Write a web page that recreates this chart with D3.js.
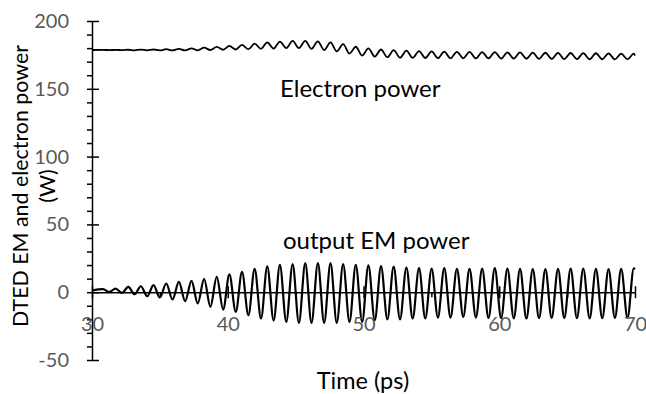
<!DOCTYPE html>
<html>
<head>
<meta charset="utf-8">
<script src="https://cdn.jsdelivr.net/npm/d3@7"></script>
<style>
  html, body { margin: 0; padding: 0; background: #fff; }
  svg { display: block; }
</style>
</head>
<body>
<svg id="chart" width="646" height="394"></svg>
<script>
// Time of each sample (ps): start, alternating crests/troughs of the ripple, end
const timePs = [
  30.00, 30.81, 31.28, 31.74, 32.21, 32.67, 33.14, 33.60, 34.07, 34.53,
  35.00, 35.47, 35.93, 36.40, 36.86, 37.33, 37.79, 38.26, 38.72, 39.19,
  39.66, 40.12, 40.59, 41.05, 41.52, 41.98, 42.45, 42.91, 43.38, 43.84,
  44.31, 44.78, 45.24, 45.71, 46.17, 46.64, 47.10, 47.57, 48.03, 48.50,
  48.97, 49.43, 49.90, 50.36, 50.83, 51.29, 51.76, 52.22, 52.69, 53.16,
  53.62, 54.09, 54.55, 55.02, 55.48, 55.95, 56.41, 56.88, 57.35, 57.81,
  58.28, 58.74, 59.21, 59.67, 60.14, 60.60, 61.07, 61.53, 62.00, 62.47,
  62.93, 63.40, 63.86, 64.33, 64.79, 65.26, 65.72, 66.19, 66.66, 67.12,
  67.59, 68.05, 68.52, 68.98, 69.45, 69.91, 70.00
];

// Output EM power (W)
const emPower = [
   1.2,   2.2,   0.2,   2.7,  -0.5,   3.9,  -1.5,   4.4,  -3.0,   5.2,
  -3.9,   6.4,  -5.4,   7.6,  -6.6,   8.3,  -8.3,   9.8, -10.8,  11.3,
 -12.8,  13.1, -14.5,  15.0, -17.0,  17.2, -19.4,  19.0, -21.0,  20.1,
 -21.9,  20.7, -22.6,  21.4, -22.6,  21.4, -22.6,  21.4, -22.6,  20.7,
 -21.9,  20.2, -21.9,  19.8, -20.7,  19.3, -20.1,  18.8, -20.1,  18.2,
 -19.4,  17.7, -19.4,  17.4, -18.7,  17.7, -18.7,  17.2, -18.2,  17.2,
 -18.7,  17.4, -19.0,  17.7, -19.2,  17.4, -19.4,  17.2, -19.4,  17.0,
 -19.2,  17.0, -19.0,  17.2, -19.0,  17.4, -19.2,  17.4, -19.4,  17.2,
 -19.2,  17.0, -19.0,  17.2, -19.0,  17.5,  17.0
];

// Electron beam power (W)
const electronPower = [
  178.6, 178.7, 178.5, 178.7, 178.5, 178.8, 178.4, 178.9, 178.4, 179.0,
  178.3, 179.2, 178.3, 179.5, 178.3, 179.8, 178.4, 180.3, 178.6, 180.9,
  178.8, 181.6, 179.0, 182.4, 179.2, 183.3, 179.5, 184.2, 179.7, 184.8,
  180.0, 185.3, 180.0, 185.4, 179.5, 185.0, 178.6, 184.2, 177.6, 183.0,
  176.0, 181.0, 174.5, 179.8, 173.8, 179.0, 173.3, 178.5, 173.0, 178.1,
  172.8, 177.8, 172.7, 177.6, 172.6, 177.4, 172.5, 177.3, 172.5, 177.2,
  172.4, 177.1, 172.4, 177.0, 172.3, 176.9, 172.3, 176.8, 172.2, 176.7,
  172.1, 176.6, 172.0, 176.5, 171.9, 176.4, 171.9, 176.3, 171.8, 176.2,
  171.8, 176.1, 171.7, 176.0, 171.7, 175.9, 174.5
];

const xMajorTicks = [30, 40, 50, 60, 70];
const xMinorTicks = [35, 45, 55, 65];
const yMajorTicks = [-50, 0, 50, 100, 150, 200];
const yMinorTicks = [-40, -30, -20, -10, 10, 20, 30, 40, 60, 70, 80, 90,
                     110, 120, 130, 140, 160, 170, 180, 190];

const FONT = "Lato, Carlito, Calibri, sans-serif";
const svg = d3.select("#chart");

const x = d3.scaleLinear().domain([30, 70]).range([92, 635]);
const y = d3.scaleLinear().domain([-50, 200]).range([360, 21]);
const plainNumber = d => String(d);

// ---- series ----
const line = d3.line()
  .x(d => x(d[0]))
  .y(d => y(d[1]))
  .curve(d3.curveMonotoneX);

svg.append("path")
  .datum(d3.zip(timePs, electronPower))
  .attr("d", line)
  .attr("fill", "none")
  .attr("stroke", "#000")
  .attr("stroke-width", 1.8)
  .attr("stroke-linejoin", "round");

svg.append("path")
  .datum(d3.zip(timePs, emPower))
  .attr("d", line)
  .attr("fill", "none")
  .attr("stroke", "#000")
  .attr("stroke-width", 2.2)
  .attr("stroke-linejoin", "round");

// ---- axes ----
function styleAxis(g, showLabels) {
  g.selectAll("line").attr("stroke", "#000").attr("stroke-width", 1.5);
  g.selectAll("path.domain").attr("stroke", "#000").attr("stroke-width", 1.5);
  g.selectAll("text")
    .attr("fill", "#595959")
    .style("font-family", FONT)
    .style("font-size", "20px");
  if (!showLabels) g.selectAll("text").remove();
}

// y axis: labelled major ticks crossing the line, minor ticks outside
const yAxisG = svg.append("g").attr("transform", `translate(${x(30)},0)`);
yAxisG.append("g")
  .call(d3.axisLeft(y).tickValues(yMajorTicks).tickFormat(plainNumber)
    .tickSizeInner(5).tickSizeOuter(0).tickPadding(18))
  .call(g => styleAxis(g, true));
yAxisG.append("g")
  .call(d3.axisRight(y).tickValues(yMajorTicks).tickSize(7).tickFormat(""))
  .call(g => g.select(".domain").remove())
  .call(g => styleAxis(g, false));
yAxisG.append("g")
  .call(d3.axisLeft(y).tickValues(yMinorTicks).tickSize(5).tickFormat(""))
  .call(g => g.select(".domain").remove())
  .call(g => styleAxis(g, false));

// x axis drawn through zero
const xAxisG = svg.append("g").attr("transform", `translate(0,${y(0)})`);
xAxisG.append("g")
  .call(d3.axisBottom(x).tickValues(xMajorTicks).tickFormat(plainNumber)
    .tickSizeInner(6).tickSizeOuter(0).tickPadding(19))
  .call(g => styleAxis(g, true));
xAxisG.append("g")
  .call(d3.axisTop(x).tickValues(xMajorTicks).tickSize(6).tickFormat(""))
  .call(g => g.select(".domain").remove())
  .call(g => styleAxis(g, false));
xAxisG.append("g")
  .call(d3.axisBottom(x).tickValues(xMinorTicks).tickSize(5).tickFormat(""))
  .call(g => g.select(".domain").remove())
  .call(g => styleAxis(g, false));

// ---- titles ----
const textStyle = size => sel => sel
  .attr("fill", "#000")
  .style("font-family", FONT)
  .style("font-size", size + "px");

svg.append("text")
  .attr("transform", "translate(28,186) rotate(-90)")
  .attr("text-anchor", "middle")
  .text("DTED EM and electron power")
  .call(textStyle(21.4));
svg.append("text")
  .attr("transform", "translate(55,186) rotate(-90)")
  .attr("text-anchor", "middle")
  .text("(W)")
  .call(textStyle(21.4));

svg.append("text")
  .attr("x", 363).attr("y", 389)
  .attr("text-anchor", "middle")
  .text("Time (ps)")
  .call(textStyle(23.5));

// ---- series annotations ----
svg.append("text")
  .attr("x", 280).attr("y", 97)
  .text("Electron power")
  .call(textStyle(24));
svg.append("text")
  .attr("x", 283).attr("y", 249)
  .text("output EM power")
  .call(textStyle(24));
</script>
</body>
</html>
